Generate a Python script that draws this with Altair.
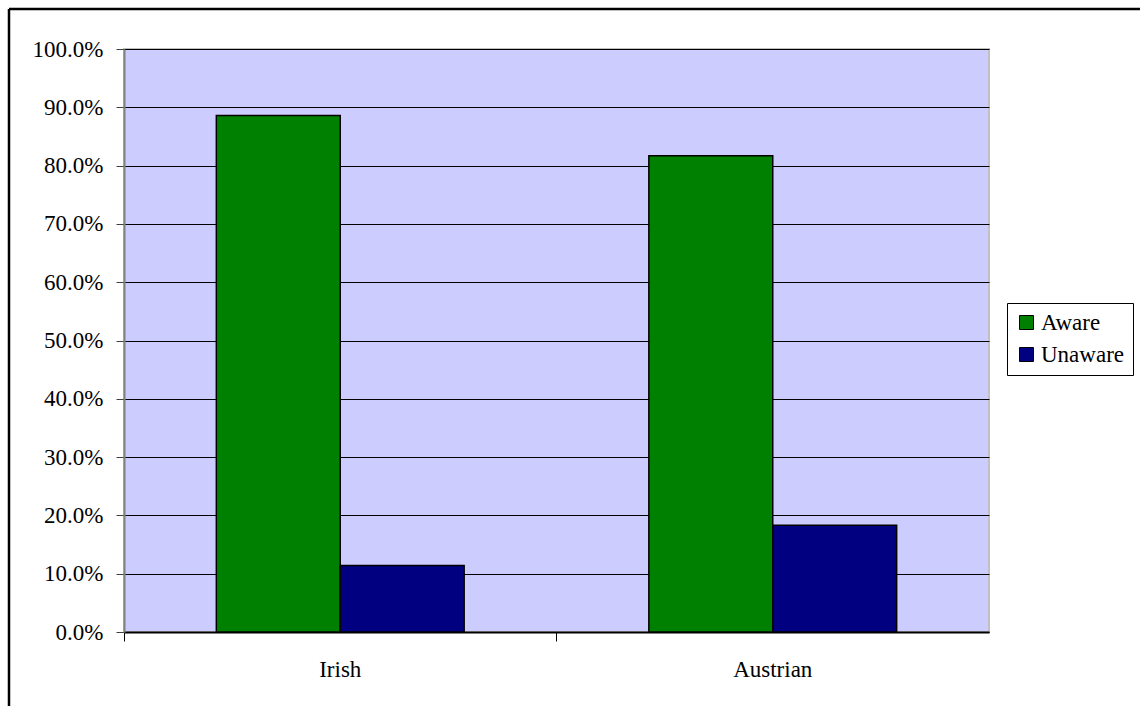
import altair as alt
import pandas as pd

categories = ["Irish", "Austrian"]
series = ["Aware", "Unaware"]
aware = [0.886, 0.817]
unaware = [0.114, 0.183]
y_ticks = [0.0, 0.1, 0.2, 0.3, 0.4, 0.5, 0.6, 0.7, 0.8, 0.9, 1.0]
colors = ["#008000", "#000080"]

rows = []
for i, c in enumerate(categories):
    rows.append({"Group": c, "Series": "Aware", "Value": aware[i]})
    rows.append({"Group": c, "Series": "Unaware", "Value": unaware[i]})
df = pd.DataFrame(rows)

FONT = "'Liberation Serif', 'Times New Roman', Times, serif"
FS = 23
W, H = 865, 583

bars = alt.Chart(df).mark_bar(stroke="black", strokeWidth=1.5).encode(
    x=alt.X(
        "Group:N",
        sort=categories,
        scale=alt.Scale(paddingInner=0.427, paddingOuter=0.2135),
        axis=alt.Axis(
            title=None,
            labelAngle=0,
            bandPosition=-0.372,
            tickSize=9,
            tickColor="black",
            tickWidth=1,
            domainColor="black",
            domainWidth=2,
            labelFont=FONT,
            labelFontSize=FS,
            labelColor="black",
            labelPadding=17,
            labelBaseline="top",
        ),
    ),
    xOffset=alt.XOffset(
        "Series:N", sort=series, scale=alt.Scale(paddingInner=0, paddingOuter=0)
    ),
    y=alt.Y(
        "Value:Q",
        scale=alt.Scale(domain=[0, 1], nice=False),
        axis=alt.Axis(
            title=None,
            format=".1%",
            values=y_ticks,
            grid=True,
            gridColor="black",
            gridWidth=1,
            gridOpacity=1,
            tickSize=8,
            tickColor="#404040",
            domainColor="#808080",
            domainWidth=2,
            labelFont=FONT,
            labelFontSize=FS,
            labelColor="black",
            labelPadding=13,
        ),
    ),
    color=alt.Color(
        "Series:N",
        scale=alt.Scale(domain=series, range=colors),
        legend=alt.Legend(
            title=None,
            orient="none",
            legendX=883,
            legendY=254,
            fillColor="white",
            strokeColor="black",
            padding=8,
            symbolType="square",
            symbolSize=196,
            symbolStrokeColor="black",
            symbolStrokeWidth=1,
            labelFont=FONT,
            labelFontSize=FS,
            labelColor="black",
            rowPadding=8,
            labelOffset=3,
        ),
    ),
)

border = alt.Data(values=[{"a": 1}])
frame_top = alt.Chart(border).mark_rule(color="black", strokeWidth=2.5).encode(
    x=alt.value(-115), x2=alt.value(1200), y=alt.value(-40)
)
frame_left = alt.Chart(border).mark_rule(color="black", strokeWidth=2.5).encode(
    x=alt.value(-115), y=alt.value(-40), y2=alt.value(900)
)

chart = (
    alt.layer(bars, frame_top, frame_left)
    .properties(
        width=W,
        height=H,
        autosize=alt.AutoSizeParams(type="none"),
        padding={"left": 124, "top": 49, "right": 151, "bottom": 74},
        background="white",
    )
    .configure_view(fill="#CCCCFF", stroke="#C0C0C0", strokeWidth=2)
)

chart.save("out.html", embed_options={"renderer": "svg", "actions": False})
